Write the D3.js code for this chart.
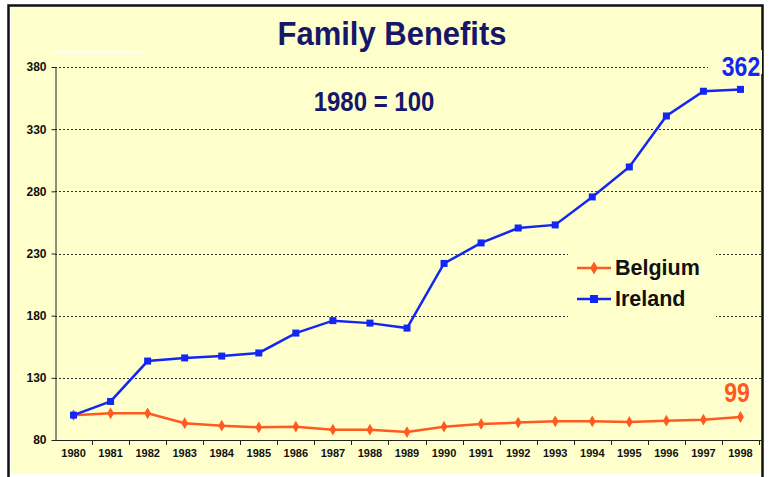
<!DOCTYPE html>
<html>
<head>
<meta charset="utf-8">
<script src="https://cdn.jsdelivr.net/npm/d3@7.9.0/dist/d3.min.js"></script>
<style>
  body { margin: 0; background: #fff; }
  svg { display: block; font-family: Arial, "Liberation Sans", sans-serif; }
</style>
</head>
<body>
<svg width="771" height="477"></svg>
<script>
const years = ['1980','1981','1982','1983','1984','1985','1986','1987','1988','1989',
               '1990','1991','1992','1993','1994','1995','1996','1997','1998'];
const belgium = [100, 101.5, 101.5, 93.5, 91.5, 90.2, 90.7, 88.3, 88.3, 86.4,
                 90.7, 92.9, 94, 95, 95, 94.5, 95.5, 96.3, 98.5];
const ireland = [100, 111, 143.5, 146, 147.5, 150, 166, 176, 174, 170,
                 222, 238.5, 250.5, 253, 275.5, 299.6, 340.6, 360.5, 362];
const yTicks = [80, 130, 180, 230, 280, 330, 380];

const svg = d3.select('svg');
const bg = '#ffffcc';

// frame
svg.append('rect').attr('x', 11).attr('y', 7).attr('width', 751).attr('height', 467).attr('fill', bg);
svg.append('path').attr('d', 'M8.5,477 V5.5 H762.5 V477').attr('fill', 'none')
  .attr('stroke', '#111').attr('stroke-width', 2.5);
svg.append('line').attr('x1', 56).attr('x2', 142).attr('y1', 52.5).attr('y2', 52.5)
  .attr('stroke', '#fff').attr('stroke-width', 1);

const x = d3.scaleBand().domain(years).range([55, 759]);
const y = d3.scaleLinear().domain([80, 380]).range([440, 67]);

// gridlines
svg.append('g').selectAll('line').data(yTicks.slice(1)).join('line')
  .attr('x1', 55).attr('x2', 762)
  .attr('y1', d => Math.round(y(d)) + 0.5).attr('y2', d => Math.round(y(d)) + 0.5)
  .attr('stroke', '#333').attr('stroke-width', 1).attr('stroke-dasharray', '2,2');

// axes
const yAxis = svg.append('g').attr('transform', 'translate(55.5,0)')
  .call(d3.axisLeft(y).tickValues(yTicks).tickSize(4).tickSizeOuter(0));
yAxis.select('.domain').attr('stroke', '#222');
yAxis.selectAll('line').attr('stroke', '#222');
yAxis.selectAll('text').attr('font-size', 12).attr('font-weight', 'bold').attr('fill', '#111').attr('dx', -2);

const xAxis = svg.append('g').attr('transform', 'translate(0,440.5)')
  .call(d3.axisBottom(x).tickSize(0).tickSizeOuter(0));
xAxis.select('.domain').attr('stroke', '#222').attr('d', 'M55,0H763');
xAxis.selectAll('text').attr('font-size', 11).attr('font-weight', 'bold').attr('fill', '#111').attr('dy', '1.25em');
svg.append('g').selectAll('line').data(years.slice(1).concat(['end'])).join('line')
  .attr('x1', (d, i) => Math.round(55 + (i + 1) * x.step()) + 0.5)
  .attr('x2', (d, i) => Math.round(55 + (i + 1) * x.step()) + 0.5)
  .attr('y1', 440).attr('y2', 445).attr('stroke', '#222');

// series
const cx = d => x(d) + x.bandwidth() / 2;
const line = d3.line().x((d, i) => cx(years[i])).y(d => y(d));
const orange = '#ff5a1f', blue = '#1226f5';

svg.append('path').datum(belgium).attr('d', line).attr('fill', 'none')
  .attr('stroke', orange).attr('stroke-width', 2.5);
svg.append('g').selectAll('path').data(belgium).join('path')
  .attr('transform', (d, i) => `translate(${cx(years[i])},${y(d)})`)
  .attr('d', d3.symbol(d3.symbolDiamond, 40)).attr('fill', orange);

svg.append('path').datum(ireland).attr('d', line).attr('fill', 'none')
  .attr('stroke', blue).attr('stroke-width', 2.5);
svg.append('g').selectAll('rect').data(ireland).join('rect')
  .attr('x', (d, i) => cx(years[i]) - 3.5).attr('y', d => y(d) - 3.5)
  .attr('width', 7).attr('height', 7).attr('fill', blue);

// end labels (slightly condensed like the original)
svg.append('rect').attr('x', 708).attr('y', 50).attr('width', 54).attr('height', 24).attr('fill', bg);
svg.append('text').attr('transform', 'translate(741,76) scale(0.92,1.12)').attr('text-anchor', 'middle')
  .attr('font-size', 25).attr('font-weight', 'bold').attr('fill', blue).text(362);
svg.append('text').attr('transform', 'translate(737,402) scale(0.92,1.12)').attr('text-anchor', 'middle')
  .attr('font-size', 25).attr('font-weight', 'bold').attr('fill', orange).text(99);

// titles
svg.append('text').attr('transform', 'translate(392,45) scale(1,1.1)').attr('text-anchor', 'middle')
  .attr('font-size', 31).attr('font-weight', 'bold').attr('fill', '#16166b').text('Family Benefits');
svg.append('text').attr('transform', 'translate(374,111) scale(1,1.12)').attr('text-anchor', 'middle')
  .attr('font-size', 24).attr('font-weight', 'bold').attr('fill', '#16166b').text('1980 = 100');

// legend
const legend = svg.append('g');
legend.append('rect').attr('x', 568).attr('y', 248).attr('width', 148).attr('height', 72).attr('fill', bg);
const items = [{ name: 'Belgium', color: orange, yy: 268 }, { name: 'Ireland', color: blue, yy: 299 }];
items.forEach((it, i) => {
  legend.append('line').attr('x1', 577).attr('x2', 611).attr('y1', it.yy).attr('y2', it.yy)
    .attr('stroke', it.color).attr('stroke-width', 2.5);
  if (i === 0) {
    legend.append('path').attr('transform', `translate(594,${it.yy})`)
      .attr('d', d3.symbol(d3.symbolDiamond, 50)).attr('fill', it.color);
  } else {
    legend.append('rect').attr('x', 590).attr('y', it.yy - 4).attr('width', 8).attr('height', 8).attr('fill', it.color);
  }
  legend.append('text').attr('x', 615).attr('y', it.yy + 7).attr('font-size', 21.5)
    .attr('font-weight', 'bold').attr('fill', '#111').text(it.name);
});
</script>
</body>
</html>
